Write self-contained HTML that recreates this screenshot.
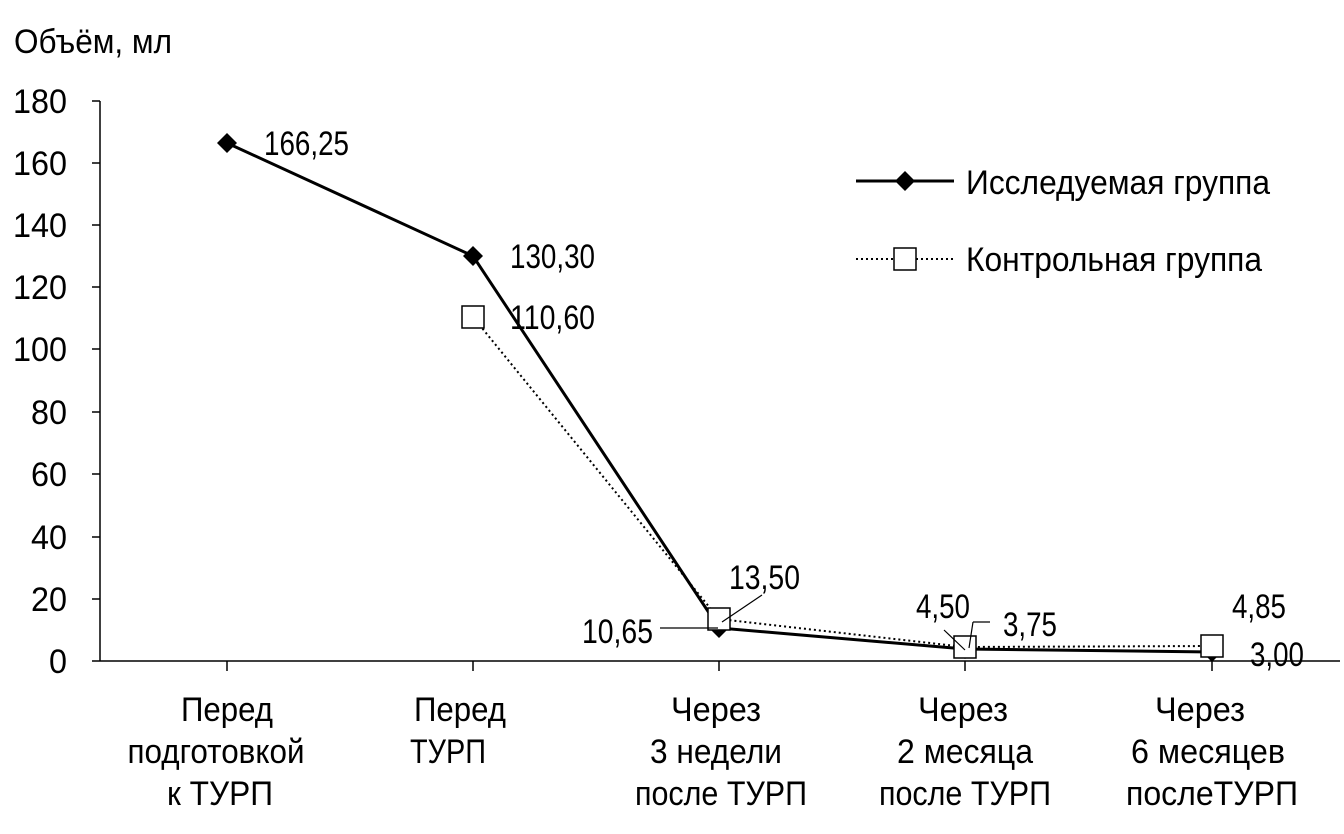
<!DOCTYPE html>
<html><head><meta charset="utf-8"><style>body{margin:0;background:#fff}svg{display:block}text{font-family:"Liberation Sans",sans-serif;fill:#000}</style></head><body>
<svg width="1344" height="834" viewBox="0 0 1344 834" xmlns="http://www.w3.org/2000/svg">
<g font-size="34">
<text x="14" y="53" textLength="158" lengthAdjust="spacingAndGlyphs">Объём, мл</text>
<g text-anchor="end">
<text x="67" y="113" textLength="54" lengthAdjust="spacingAndGlyphs">180</text><text x="67" y="175" textLength="54" lengthAdjust="spacingAndGlyphs">160</text><text x="67" y="237" textLength="54" lengthAdjust="spacingAndGlyphs">140</text><text x="67" y="299" textLength="54" lengthAdjust="spacingAndGlyphs">120</text><text x="67" y="361" textLength="54" lengthAdjust="spacingAndGlyphs">100</text><text x="67" y="424" textLength="36" lengthAdjust="spacingAndGlyphs">80</text><text x="67" y="486" textLength="36" lengthAdjust="spacingAndGlyphs">60</text><text x="67" y="549" textLength="36" lengthAdjust="spacingAndGlyphs">40</text><text x="67" y="611" textLength="36" lengthAdjust="spacingAndGlyphs">20</text><text x="67" y="673" textLength="18" lengthAdjust="spacingAndGlyphs">0</text>
</g>
</g>
<g stroke="#000" stroke-width="1.5" fill="none">
<line x1="100" y1="101" x2="100" y2="661"/>
<line x1="100" y1="661" x2="1340" y2="661"/>
<path d="M92 101H100M92 163H100M92 225H100M92 287H100M92 349H100M92 412H100M92 474H100M92 537H100M92 599H100M92 661H100"/>
<path d="M227 661V671M473 661V671M719 661V671M965 661V671M1212 661V671"/>
</g>
<polyline points="473,317 719,619 965,647 1212,646" fill="none" stroke="#000" stroke-width="2" stroke-dasharray="2,3"/>
<polyline points="227,143 473,256 719,628 965,649 1212,652" fill="none" stroke="#000" stroke-width="3"/>
<g fill="#000">
<path d="M227 133l10 10-10 10-10-10z"/><path d="M473 246l10 10-10 10-10-10z"/><path d="M719 618l10 10-10 10-10-10z"/><path d="M965 639l10 10-10 10-10-10z"/><path d="M1212 642l10 10-10 10-10-10z"/>
</g>
<g fill="#fff" stroke="#000" stroke-width="1.5">
<rect x="462" y="306" width="22" height="22"/><rect x="708" y="608" width="22" height="22"/><rect x="954" y="636" width="22" height="22"/><rect x="1201" y="635" width="22" height="22"/>
</g>
<g stroke="#000" stroke-width="1.2">
<line x1="660" y1="628" x2="718" y2="628"/><line x1="722" y1="622" x2="762" y2="595"/>
<line x1="944" y1="630" x2="965" y2="650"/><line x1="969" y1="648" x2="973" y2="622"/><line x1="973" y1="622" x2="990" y2="622"/>
</g>
<g font-size="34">
<text x="264" y="155" textLength="85" lengthAdjust="spacingAndGlyphs">166,25</text>
<text x="510" y="268" textLength="85" lengthAdjust="spacingAndGlyphs">130,30</text>
<text x="510" y="329" textLength="85" lengthAdjust="spacingAndGlyphs">110,60</text>
<text x="729" y="589" textLength="71" lengthAdjust="spacingAndGlyphs">13,50</text>
<text x="582" y="643" textLength="71" lengthAdjust="spacingAndGlyphs">10,65</text>
<text x="916" y="618" textLength="54" lengthAdjust="spacingAndGlyphs">4,50</text>
<text x="1003" y="636" textLength="54" lengthAdjust="spacingAndGlyphs">3,75</text>
<text x="1232" y="618" textLength="54" lengthAdjust="spacingAndGlyphs">4,85</text>
<text x="1250" y="666" textLength="54" lengthAdjust="spacingAndGlyphs">3,00</text>
<text x="966" y="194" textLength="304" lengthAdjust="spacingAndGlyphs">Исследуемая группа</text>
<text x="966" y="271" textLength="296" lengthAdjust="spacingAndGlyphs">Контрольная группа</text>
</g>
<line x1="856" y1="181" x2="954" y2="181" stroke="#000" stroke-width="3"/>
<path d="M905 171l10 10-10 10-10-10z"/>
<line x1="856" y1="259" x2="954" y2="259" stroke="#000" stroke-width="2" stroke-dasharray="2,3"/>
<rect x="894" y="248" width="22" height="22" fill="#fff" stroke="#000" stroke-width="1.5"/>
<g font-size="34" text-anchor="middle">
<text x="227" y="721" textLength="92" lengthAdjust="spacingAndGlyphs">Перед</text>
<text x="216" y="763" textLength="177" lengthAdjust="spacingAndGlyphs">подготовкой</text>
<text x="220" y="805" textLength="106" lengthAdjust="spacingAndGlyphs">к ТУРП</text>
<text x="460" y="721" textLength="92" lengthAdjust="spacingAndGlyphs">Перед</text>
<text x="448" y="763" textLength="76" lengthAdjust="spacingAndGlyphs">ТУРП</text>
<text x="716" y="721" textLength="90" lengthAdjust="spacingAndGlyphs">Через</text>
<text x="716" y="763" textLength="132" lengthAdjust="spacingAndGlyphs">3 недели</text>
<text x="721" y="805" textLength="172" lengthAdjust="spacingAndGlyphs">после ТУРП</text>
<text x="963" y="721" textLength="90" lengthAdjust="spacingAndGlyphs">Через</text>
<text x="965" y="763" textLength="136" lengthAdjust="spacingAndGlyphs">2 месяца</text>
<text x="965" y="805" textLength="172" lengthAdjust="spacingAndGlyphs">после ТУРП</text>
<text x="1200" y="721" textLength="90" lengthAdjust="spacingAndGlyphs">Через</text>
<text x="1208" y="763" textLength="154" lengthAdjust="spacingAndGlyphs">6 месяцев</text>
<text x="1212" y="805" textLength="172" lengthAdjust="spacingAndGlyphs">послеТУРП</text>
</g>
</svg>
</body></html>
